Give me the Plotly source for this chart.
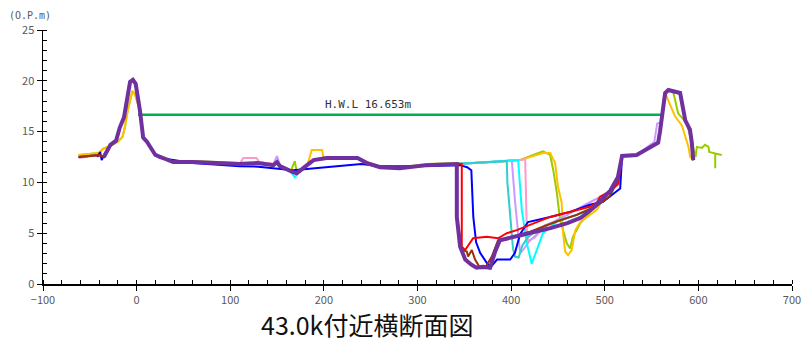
import plotly.graph_objects as go

# ---------------- data ----------------
HWL_VALUE = 16.653
HWL_X = [1.5, 561]

# shared left bank / floodplain profile
LEFT_X = [-62, -45, -40, -35, -31, -28, -22, -18, -13.5, -9, -7, -4, -1, 3.5, 7, 11, 20, 28, 39]
LEFT_Y = [12.5, 12.6, 12.7, 12.5, 13.2, 13.7, 14.1, 15.4, 16.4, 18.6, 19.9, 20.1, 19.7, 17.1, 14.4, 14.0, 12.7, 12.4, 12.0]

YG_LEFT_X = [-62, -45, -40, -36, -28, -20, -15, -12.4, -9.5, -4.5, -1.5, 3.5, 7, 11, 20, 28, 39]
YG_LEFT_Y = [12.7, 12.8, 12.9, 13.3, 13.6, 14.0, 14.5, 15.5, 17.1, 19.0, 18.6, 17.1, 14.4, 14.0, 12.7, 12.5, 12.1]

BL_LEFT_X = [-42, -39, -37.3, -33.8]
BL_LEFT_Y = [12.5, 13.0, 12.2, 12.9]

FLOOD_X = [60, 110, 129, 146, 150, 153, 167, 171, 182, 189, 203, 236, 246, 260, 281, 310, 342]
FLOOD_Y = [12.0, 11.8, 11.9, 11.7, 12.0, 11.6, 11.0, 10.9, 11.7, 12.2, 12.4, 12.4, 11.9, 11.5, 11.4, 11.7, 11.8]

YG_FLOOD_X = [60, 110, 129, 146, 150, 153, 165, 169, 171, 182, 189, 203, 236, 246, 260, 281, 310, 342]
YG_FLOOD_Y = [12.1, 11.9, 12.0, 11.8, 12.1, 11.7, 11.2, 12.1, 11.0, 11.7, 12.2, 12.4, 12.4, 12.0, 11.6, 11.5, 11.8, 11.9]

Y_FLOOD_X = [60, 110, 129, 146, 150, 153, 167, 171, 182, 184, 187, 198, 199.5, 203, 236, 246, 260, 281, 310, 342]
Y_FLOOD_Y = [12.0, 11.8, 11.9, 11.8, 12.0, 11.6, 11.0, 11.0, 11.7, 12.2, 13.2, 13.2, 12.5, 12.4, 12.4, 11.9, 11.5, 11.4, 11.7, 11.8]

PK_FLOOD_X = [60, 110, 114, 128, 131, 146, 150, 153, 167, 171, 182, 189, 203, 236, 246, 260, 281, 310, 342]
PK_FLOOD_Y = [12.0, 11.8, 12.4, 12.4, 12.0, 11.8, 12.0, 11.6, 11.0, 10.9, 11.7, 12.2, 12.4, 12.4, 11.9, 11.5, 11.4, 11.7, 11.8]

LV_FLOOD_X = [60, 110, 129, 146, 150, 153, 167, 171, 182, 189, 203, 236, 246, 260, 281, 310, 342]
LV_FLOOD_Y = [12.0, 11.8, 11.9, 11.8, 12.6, 11.7, 11.0, 10.9, 11.7, 12.2, 12.4, 12.4, 11.9, 11.5, 11.4, 11.7, 11.8]

CY_FLOOD_X = [60, 110, 129, 146, 150, 153, 165, 169, 173, 182, 189, 203, 236, 246, 260, 281, 310, 342]
CY_FLOOD_Y = [12.0, 11.8, 11.9, 11.7, 12.0, 11.6, 11.0, 10.5, 11.0, 11.7, 12.2, 12.4, 12.4, 11.9, 11.5, 11.4, 11.7, 11.8]

BL_FLOOD_X = [25, 60, 110, 130, 167, 240, 260, 300, 345, 353]
BL_FLOOD_Y = [12.4, 11.9, 11.6, 11.55, 11.2, 11.8, 11.6, 11.6, 11.7, 11.5]

# shared right-side slope and right bank
SLOPE_X = [430, 450, 470, 490, 505, 514, 518.5, 534, 557]
SLOPE_Y = [5.5, 6.2, 6.8, 7.6, 8.6, 10.3, 12.6, 12.7, 13.9]
RBANK_X = [559, 564.5, 568, 580.5, 586, 591, 593, 594.5]
RBANK_Y = [15.0, 18.8, 19.1, 18.8, 16.1, 15.2, 13.9, 12.2]

# per-survey channel sections
P_CH_X = [342, 345.5, 351, 357.5, 363, 370, 377.5, 383, 388, 410, 420, 442, 460, 474, 488, 506, 514]
P_CH_Y = [6.6, 3.7, 2.4, 1.9, 1.6, 1.7, 1.6, 3.2, 4.3, 4.8, 5.0, 5.5, 6.0, 6.5, 7.5, 9.2, 10.5]

YG_CH_X = [360, 380, 395, 410, 423.5, 434, 441.7, 445, 448.8, 452.3, 459.5, 463, 466, 474, 484, 495, 505, 514,
           518.5, 534, 557, 559, 564.5, 568, 573.4, 578.4, 587.7, 593, 597, 598.4, 603.7, 605, 607, 610.8,
           611.6, 618, 618, 618, 625]
YG_CH_Y = [11.9, 12.0, 12.1, 12.2, 12.7, 13.05, 12.7, 11.2, 9.0, 6.3, 4.0, 3.5, 4.65, 6.0, 7.0, 8.3, 8.9, 10.3,
           12.6, 12.7, 13.9, 15.0, 18.8, 19.1, 18.8, 16.8, 15.8, 14.0, 12.5, 13.5, 13.4, 13.5, 13.7, 13.5,
           13.0, 12.85, 11.4, 12.85, 12.7]

Y_CH_X = [360, 380, 395, 410, 423.5, 434, 441.7, 447, 450, 454, 455.5, 457.7, 460.8, 464.8, 468.5, 474, 491.5,
          498, 505.6, 514, 518.5, 534, 557, 559, 564.5, 575, 582.4, 589.4, 591.3, 594.7]
Y_CH_Y = [11.9, 12.0, 12.1, 12.2, 12.6, 12.9, 12.9, 11.9, 9.6, 8.0, 5.0, 3.2, 2.85, 3.35, 5.3, 6.1, 7.3,
          8.3, 8.6, 10.3, 12.6, 12.7, 13.9, 15.0, 18.8, 16.5, 15.6, 13.5, 12.5, 12.2]

PK_CH_X = [360, 380, 395, 410, 415, 416.8, 418.2, 425.6, 436]
PK_CH_Y = [11.9, 12.0, 12.1, 12.2, 12.3, 5.0, 4.2, 4.6, 5.8]

LV_CH_X = [360, 380, 395, 400.7, 404, 409.6, 412.8, 420, 440, 460, 481, 500, 516, 518.5, 534, 553, 556, 560]
LV_CH_Y = [11.9, 12.0, 12.1, 12.2, 8.3, 3.05, 3.35, 4.3, 5.9, 6.8, 7.9, 8.8, 9.9, 12.6, 12.7, 14.0, 15.8, 15.9]

CY_CH_X = [360, 380, 395, 407.5, 411.4, 416.8, 422, 427.5, 434]
CY_CH_Y = [11.9, 12.0, 12.1, 12.2, 7.3, 4.0, 2.0, 3.35, 5.0]

TL_CH_X = [360, 380, 395.4, 396, 399, 402, 404, 408, 412, 418]
TL_CH_Y = [11.9, 12.0, 12.1, 10.0, 6.6, 3.5, 2.7, 2.6, 3.8, 4.6]

BL_CH_X = [357.5, 359.6, 362.6, 367, 377.5, 385, 399, 404, 409.6, 418, 441.7, 463, 484, 498, 511, 516.5]
BL_CH_Y = [11.2, 6.6, 4.1, 3.05, 1.6, 2.4, 2.4, 3.05, 4.9, 6.1, 6.6, 7.1, 7.8, 8.1, 9.0, 9.4]

RD_CH_X = [347.3, 347.3, 350.9, 359.4, 374, 386, 395.4, 406, 420.3, 441.7, 484, 491.5, 495, 507.6, 514.3]
RD_CH_Y = [11.8, 3.67, 3.35, 4.5, 4.65, 4.5, 5.0, 5.3, 5.8, 6.6, 7.6, 8.0, 8.6, 9.25, 9.9]

BR_CH_X = [342, 347.6, 352.7, 354, 358, 361.5, 367, 372, 379.4, 386, 395.4, 407.5, 420.3]
BR_CH_Y = [6.6, 3.35, 3.2, 2.7, 3.35, 2.4, 1.55, 1.55, 2.7, 4.3, 4.5, 4.8, 5.15]


def part(xs, ys, lo=-1e9, hi=1e9):
    pts = [(x, y) for x, y in zip(xs, ys) if lo <= x <= hi]
    return [p[0] for p in pts], [p[1] for p in pts]


def join(*parts):
    X, Y = [], []
    for xs, ys in parts:
        X += list(xs)
        Y += list(ys)
    return X, Y


series = []
series.append(("#99cc00", 2, join((YG_LEFT_X, YG_LEFT_Y), (YG_FLOOD_X, YG_FLOOD_Y), (YG_CH_X, YG_CH_Y))))
series.append(("#ffc000", 2, join((YG_LEFT_X, YG_LEFT_Y), (Y_FLOOD_X, Y_FLOOD_Y), (Y_CH_X, Y_CH_Y))))
series.append(("#ff99cc", 2, join((LEFT_X, LEFT_Y), (PK_FLOOD_X, PK_FLOOD_Y), (PK_CH_X, PK_CH_Y),
                                  part(SLOPE_X, SLOPE_Y, 450), (RBANK_X, RBANK_Y))))
series.append(("#cc99ff", 2, join((LEFT_X, [12.4] + LEFT_Y[1:]), (LV_FLOOD_X, LV_FLOOD_Y), (LV_CH_X, LV_CH_Y),
                                  part(RBANK_X, RBANK_Y, 564))))
series.append(("#00ffff", 2, join((LEFT_X, LEFT_Y), (CY_FLOOD_X, CY_FLOOD_Y), (CY_CH_X, CY_CH_Y),
                                  part(SLOPE_X, SLOPE_Y, 450), (RBANK_X, RBANK_Y))))
series.append(("#33cccc", 2, join((LEFT_X, LEFT_Y), (FLOOD_X, FLOOD_Y), (TL_CH_X, TL_CH_Y),
                                  (SLOPE_X, SLOPE_Y), (RBANK_X, RBANK_Y))))
series.append(("#0000ff", 2, join((BL_LEFT_X, BL_LEFT_Y), part(LEFT_X, LEFT_Y, -31, 20), (BL_FLOOD_X, BL_FLOOD_Y),
                                  (BL_CH_X, BL_CH_Y), part(SLOPE_X, SLOPE_Y, 518), (RBANK_X, RBANK_Y))))
series.append(("#ff0000", 2, join((LEFT_X, LEFT_Y), (FLOOD_X, FLOOD_Y), (RD_CH_X, RD_CH_Y),
                                  part(SLOPE_X, SLOPE_Y, 518), (RBANK_X, RBANK_Y))))
series.append(("#993300", 2, join((LEFT_X, LEFT_Y), (FLOOD_X, FLOOD_Y), (BR_CH_X, BR_CH_Y),
                                  (SLOPE_X, SLOPE_Y), (RBANK_X, RBANK_Y))))
series.append(("#7030a0", 4, join(part(LEFT_X, LEFT_Y, -35), (FLOOD_X, FLOOD_Y), (P_CH_X, P_CH_Y),
                                  part(SLOPE_X, SLOPE_Y, 518), (RBANK_X, RBANK_Y))))

fig = go.Figure()

fig.add_trace(go.Scatter(x=HWL_X, y=[HWL_VALUE, HWL_VALUE], mode="lines",
                         line=dict(color="#00b050", width=2.5), hoverinfo="skip"))

for color, width, (xs, ys) in series:
    fig.add_trace(go.Scatter(x=xs, y=ys, mode="lines",
                             line=dict(color=color, width=width, shape="linear"),
                             hoverinfo="skip"))

FONT = "Noto Sans CJK JP, sans-serif"
MONO = "DejaVu Sans Mono, monospace"

fig.add_annotation(x=247, y=HWL_VALUE, xref="x", yref="y", text="H.W.L 16.653m",
                   showarrow=False, yanchor="bottom", yshift=2,
                   font=dict(family=MONO, size=11, color="#333333"))
fig.add_annotation(x=-0.017, y=1.057, xref="paper", yref="paper", text="(O.P.m)",
                   showarrow=False, xanchor="center", yanchor="middle",
                   font=dict(family=MONO, size=10, color="#595959"))
fig.add_annotation(x=0.4326, y=-0.156, xref="paper", yref="paper", text="43.0k付近横断面図",
                   showarrow=False, xanchor="center", yanchor="middle",
                   font=dict(family=FONT, size=25, color="#111111"))

fig.update_layout(
    width=803, height=339,
    margin=dict(l=43, r=11, t=30, b=55, autoexpand=False),
    paper_bgcolor="white", plot_bgcolor="white",
    showlegend=False,
    font=dict(family=FONT, size=11, color="#595959"),
    xaxis=dict(range=[-100, 700], dtick=100, tick0=0, showgrid=False, zeroline=False,
               showline=True, linecolor="black", linewidth=1.5,
               ticks="outside", ticklen=5, tickcolor="black", tickwidth=1,
               ticklabeloverflow="allow",
               minor=dict(dtick=20, ticks="inside", ticklen=4, tickcolor="black", showgrid=False),
               tickfont=dict(family=FONT, size=11, color="#595959")),
    yaxis=dict(range=[0, 25], dtick=5, showgrid=False, zeroline=False,
               showline=True, linecolor="black", linewidth=1.5,
               ticks="outside", ticklen=5, tickcolor="black", tickwidth=1,
               minor=dict(dtick=1, ticks="inside", ticklen=4, tickcolor="black", showgrid=False),
               tickfont=dict(family=FONT, size=11, color="#595959")),
)

# remove the browser's default 8px body margin so the 803x339 figure fills the window exactly
fig.write_html("out.html",
               config={"displayModeBar": False, "staticPlot": True},
               post_script="document.body.style.margin='0';document.body.style.overflow='hidden';")
